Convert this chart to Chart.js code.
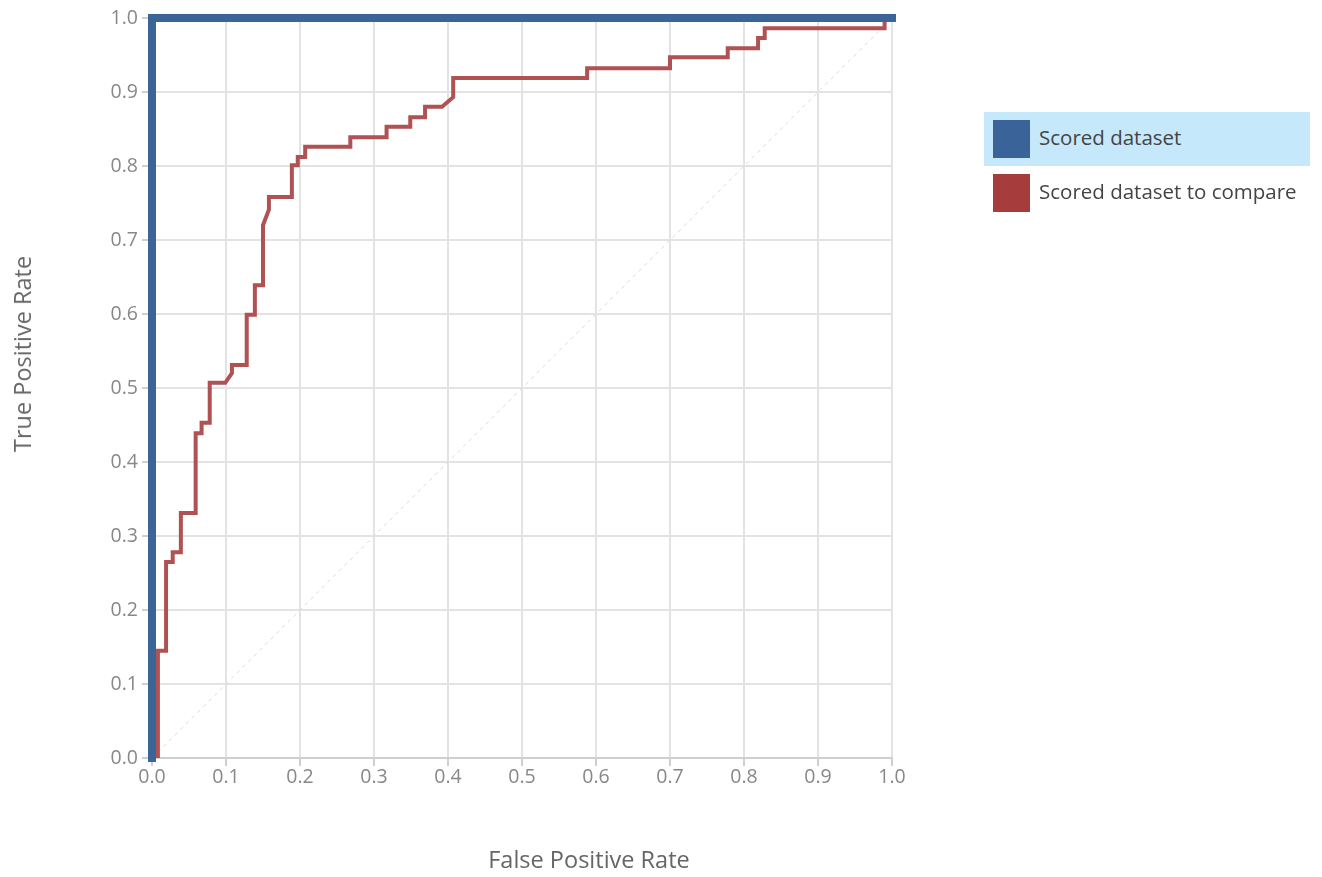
<!DOCTYPE html>
<html>
<head>
<meta charset="utf-8">
<script src="https://cdn.jsdelivr.net/npm/chart.js@4/dist/chart.umd.min.js"></script>
<style>
  body { margin: 0; background: #fff; }
  #wrap { position: relative; width: 1322px; height: 877px; }
  #legend { position: absolute; left: 984px; top: 112px; font-family: 'Open Sans', sans-serif; font-size: 20.5px; color: #444; }
  .item { position: relative; width: 326px; height: 54px; }
  .item.active { background: #c5e8fa; }
  .swatch { position: absolute; left: 9px; top: 8px; width: 37px; height: 38px; }
  .label { position: absolute; left: 55px; top: 11px; white-space: nowrap; }
  .axis-title { position: absolute; font-family: 'Open Sans', sans-serif; font-size: 23.5px; color: #666; white-space: nowrap; transform: translate(-50%, -50%); }
  #ytitle { transform: translate(-50%, -50%) rotate(-90deg); }
</style>
</head>
<body>
<div id="wrap">
  <canvas id="roc" width="1322" height="877"></canvas>
  <div id="legend"></div>
  <div class="axis-title" id="xtitle" style="left:589px; top:859px;"></div>
  <div class="axis-title" id="ytitle" style="left:22px; top:354px;"></div>
</div>
<script>
// ROC curves (false positive rate, true positive rate)
const seriesNames = ['Scored dataset', 'Scored dataset to compare'];
const seriesColors = ['#3a6399', '#a63c3c'];
const lineColors = ['#3b6497', '#b05253'];
const xTitle = 'False Positive Rate';
const yTitle = 'True Positive Rate';

const scoredFpr = [0, 0, 1];
const scoredTpr = [0, 1, 1];

const compareFpr = [0.008, 0.008, 0.019, 0.019, 0.028, 0.028, 0.039, 0.039, 0.059, 0.059, 0.067, 0.067,
  0.078, 0.078, 0.099, 0.108, 0.108, 0.128, 0.128, 0.139, 0.139, 0.150, 0.150, 0.158, 0.158, 0.189,
  0.189, 0.197, 0.197, 0.207, 0.207, 0.268, 0.268, 0.317, 0.317, 0.349, 0.349, 0.369, 0.369, 0.392,
  0.407, 0.407, 0.588, 0.588, 0.700, 0.700, 0.778, 0.778, 0.819, 0.819, 0.828, 0.828, 0.990, 0.990, 1.0];
const compareTpr = [0, 0.145, 0.145, 0.265, 0.265, 0.278, 0.278, 0.331, 0.331, 0.439, 0.439, 0.453,
  0.453, 0.507, 0.507, 0.520, 0.531, 0.531, 0.599, 0.599, 0.639, 0.639, 0.720, 0.741, 0.758, 0.758,
  0.801, 0.801, 0.812, 0.812, 0.826, 0.826, 0.839, 0.839, 0.853, 0.853, 0.866, 0.866, 0.880, 0.880,
  0.893, 0.919, 0.919, 0.932, 0.932, 0.947, 0.947, 0.959, 0.959, 0.973, 0.973, 0.986, 0.986, 1.0, 1.0];

const chanceFpr = [0, 1];
const chanceTpr = [0, 1];

const tickValues = [0, 0.1, 0.2, 0.3, 0.4, 0.5, 0.6, 0.7, 0.8, 0.9, 1.0];

const toPoints = (xs, ys) => xs.map((x, i) => ({ x: x, y: ys[i] }));

const tickFont = { family: 'Open Sans', size: 19.5 };

new Chart(document.getElementById('roc').getContext('2d'), {
  type: 'scatter',
  data: {
    datasets: [
      {
        label: seriesNames[0],
        data: toPoints(scoredFpr, scoredTpr),
        showLine: true,
        borderColor: lineColors[0],
        borderWidth: 8,
        pointRadius: 0,
        borderJoinStyle: 'miter',
        borderCapStyle: 'square',
        clip: false
      },
      {
        label: seriesNames[1],
        data: toPoints(compareFpr, compareTpr),
        showLine: true,
        borderColor: lineColors[1],
        borderWidth: 4,
        pointRadius: 0,
        borderJoinStyle: 'miter',
        clip: false
      },
      {
        label: 'chance',
        data: toPoints(chanceFpr, chanceTpr),
        showLine: true,
        borderColor: '#d3e0e4',
        borderWidth: 1,
        borderDash: [4, 4],
        pointRadius: 0
      }
    ]
  },
  options: {
    responsive: false,
    animation: false,
    layout: { padding: { top: 18, right: 430, left: 0, bottom: 0 } },
    plugins: { legend: { display: false }, tooltip: { enabled: false } },
    scales: {
      x: {
        type: 'linear',
        min: 0,
        max: 1,
        afterBuildTicks: (scale) => { scale.ticks = tickValues.map(v => ({ value: v })); },
        afterFit: (scale) => { scale.height = 119; },
        ticks: { color: '#888', font: tickFont, padding: 0, callback: (v) => v.toFixed(1) },
        grid: { color: '#e3e3e3', lineWidth: 2, tickLength: 8, tickColor: '#cfcfcf' },
        border: { color: '#cfcfcf', width: 2 }
      },
      y: {
        type: 'linear',
        min: 0,
        max: 1,
        afterBuildTicks: (scale) => { scale.ticks = tickValues.map(v => ({ value: v })); },
        afterFit: (scale) => { scale.width = 152; },
        ticks: { color: '#888', font: tickFont, padding: 4, callback: (v) => v.toFixed(1) },
        grid: { color: '#e3e3e3', lineWidth: 2, tickLength: 10, tickColor: '#cfcfcf' },
        border: { color: '#cfcfcf', width: 2 }
      }
    }
  }
});

document.getElementById('xtitle').textContent = xTitle;
document.getElementById('ytitle').textContent = yTitle;

// legend drawn beside the chart, first entry highlighted
const legend = document.getElementById('legend');
seriesNames.forEach((name, i) => {
  const item = document.createElement('div');
  item.className = 'item' + (i === 0 ? ' active' : '');
  item.innerHTML = `<div class="swatch" style="background:${seriesColors[i]}"></div><span class="label">${name}</span>`;
  legend.appendChild(item);
});
</script>
</body>
</html>
